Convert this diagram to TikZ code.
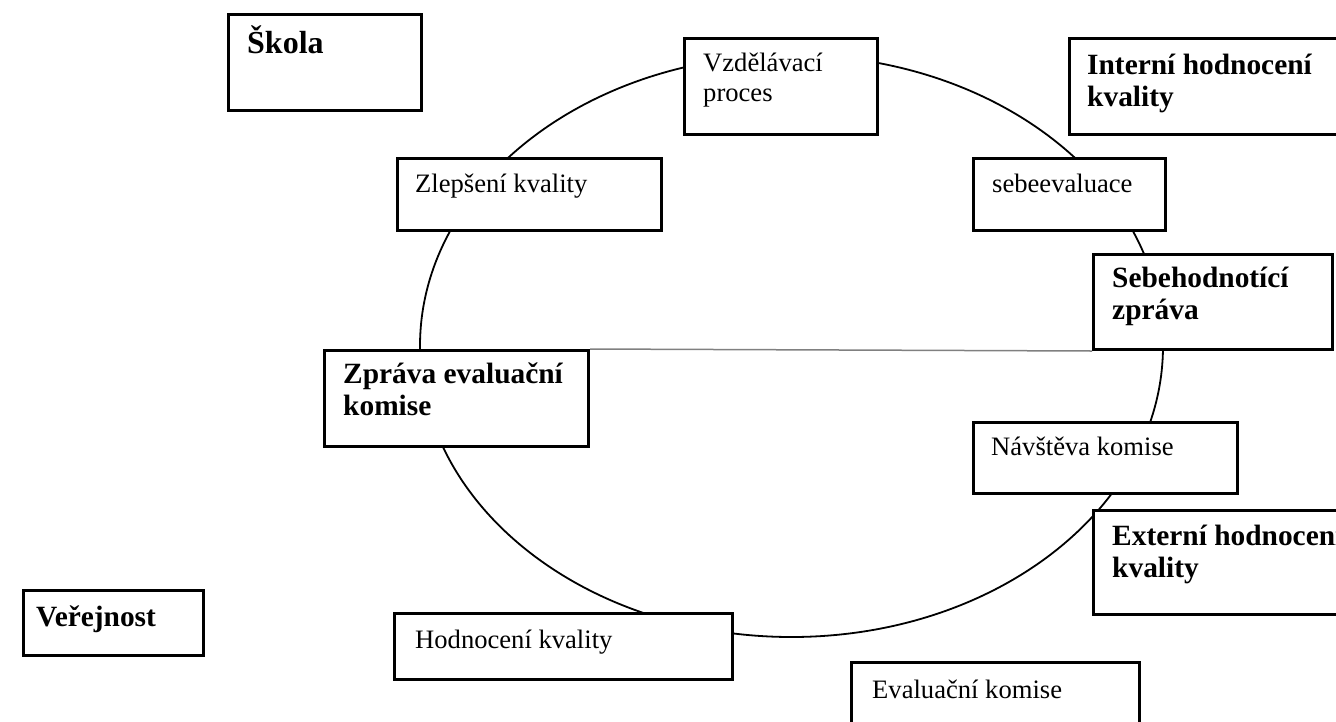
\documentclass[tikz,border=0pt]{standalone}
\usepackage{fontspec}
\setmainfont{Liberation Serif}
\usetikzlibrary{calc}
\newcommand{\mybox}[5]{\node[boxst,minimum width=#4-#2,minimum height=#5-#3] (#1) at (#2,-#3) {};}
\newcommand{\twol}[2]{\vtop{\hbox{#1}\hbox{#2}}}
\begin{document}
\begin{tikzpicture}[x=1pt,y=1pt,
  boxst/.style={draw=black,line width=3pt,fill=white,inner sep=0pt,anchor=north west},
  rtext/.style={anchor=base west,inner sep=0pt,font=\fontsize{26.6}{30}\selectfont},
  btext/.style={anchor=base west,inner sep=0pt,font=\fontsize{29.4}{32}\selectfont\bfseries}]
\useasboundingbox (0,0) rectangle (1336,-721);
\clip (0,0) rectangle (1336,-721);
% cycle
\draw[line width=1.8pt] (791.5,-346) ellipse [x radius=371.5, y radius=291];
% boxes
\mybox{skola}{227}{13}{420}{109}
\mybox{vzdel}{683}{37}{876}{133}
\mybox{interni}{1068}{37}{1350}{133}
\mybox{zlepseni}{396}{157}{660}{229}
\mybox{sebeeval}{972}{157}{1164}{229}
\mybox{sebehod}{1092}{253}{1331}{348}
\mybox{zprava}{323}{349}{587}{445}
\mybox{navsteva}{972}{421}{1236}{492}
\mybox{externi}{1092}{509}{1350}{613}
\mybox{verejnost}{22}{589}{202}{654}
\mybox{hodnoceni}{393}{612}{731}{678}
\mybox{evalkom}{850}{661}{1138}{740}
% gray line
\draw[line width=1.5pt,gray] (zprava.north east) -- (sebehod.south west);
% texts
\node[btext,font=\fontsize{32}{34}\selectfont\bfseries] (tskola) at ($(skola.north west)+(20,-40)$) {Škola};
\node[rtext] (tvzdel) at ($(vzdel.north west)+(20,-34)$) {\twol{Vzdělávací}{proces}};
\node[btext] (tinterni) at ($(interni.north west)+(19,-37)$) {\twol{Interní hodnocení}{kvality}};
\node[rtext] (tzlepseni) at ($(zlepseni.north west)+(19,-35)$) {Zlepšení kvality};
\node[rtext] (tsebeeval) at ($(sebeeval.north west)+(20,-35)$) {sebeevaluace};
\node[btext] (tsebehod) at ($(sebehod.north west)+(20,-34)$) {\twol{Sebehodnotící}{zpráva}};
\node[btext] (tzprava) at ($(zprava.north west)+(20,-34)$) {\twol{Zpráva evaluační}{komise}};
\node[rtext] (tnavsteva) at ($(navsteva.north west)+(19,-34)$) {Návštěva komise};
\node[btext] (texterni) at ($(externi.north west)+(20,-36)$) {\twol{Externí hodnocení}{kvality}};
\node[btext] (tverejnost) at ($(verejnost.north west)+(14,-37)$) {Veřejnost};
\node[rtext] (thodnoceni) at ($(hodnoceni.north west)+(22,-36)$) {Hodnocení kvality};
\node[rtext] (tevalkom) at ($(evalkom.north west)+(22,-37)$) {Evaluační komise};
\end{tikzpicture}
\end{document}
